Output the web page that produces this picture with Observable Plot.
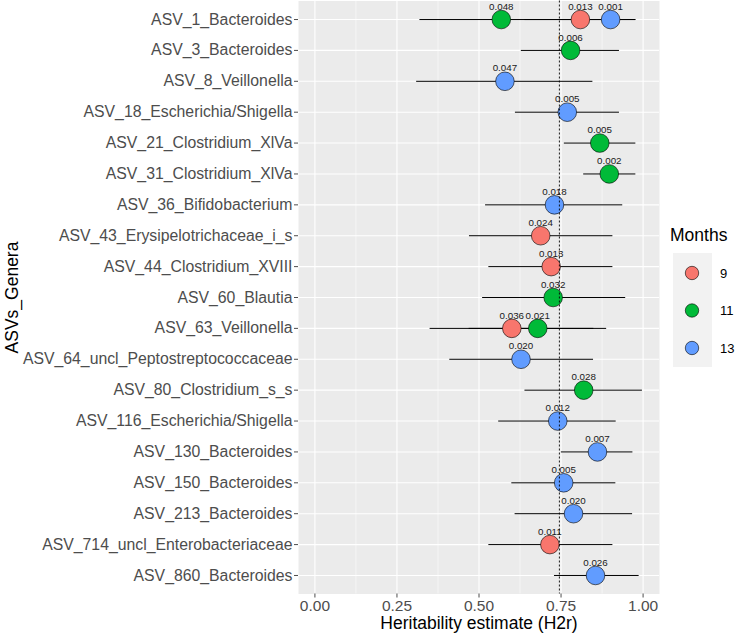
<!DOCTYPE html>
<html>
<head>
<meta charset="utf-8">
<script src="https://cdn.jsdelivr.net/npm/d3@7"></script>
<script src="https://cdn.jsdelivr.net/npm/@observablehq/plot@0.6"></script>
<style>
  body { margin: 0; background: white; font-family: "Liberation Sans", Arial, Helvetica, sans-serif; }
  #wrap { position: relative; width: 736px; height: 634px; }
  #legend { position: absolute; left: 660px; top: 222px; width: 76px; }
</style>
</head>
<body>
<div id="wrap"></div>
<script>
const categories = [
  "ASV_1_Bacteroides", "ASV_3_Bacteroides", "ASV_8_Veillonella", "ASV_18_Escherichia/Shigella",
  "ASV_21_Clostridium_XlVa", "ASV_31_Clostridium_XlVa", "ASV_36_Bifidobacterium",
  "ASV_43_Erysipelotrichaceae_i_s", "ASV_44_Clostridium_XVIII", "ASV_60_Blautia",
  "ASV_63_Veillonella", "ASV_64_uncl_Peptostreptococcaceae", "ASV_80_Clostridium_s_s",
  "ASV_116_Escherichia/Shigella", "ASV_130_Bacteroides", "ASV_150_Bacteroides",
  "ASV_213_Bacteroides", "ASV_714_uncl_Enterobacteriaceae", "ASV_860_Bacteroides"
];
const pointAsv = [
  "ASV_1_Bacteroides", "ASV_1_Bacteroides", "ASV_1_Bacteroides", "ASV_3_Bacteroides",
  "ASV_8_Veillonella", "ASV_18_Escherichia/Shigella", "ASV_21_Clostridium_XlVa",
  "ASV_31_Clostridium_XlVa", "ASV_36_Bifidobacterium", "ASV_43_Erysipelotrichaceae_i_s",
  "ASV_44_Clostridium_XVIII", "ASV_60_Blautia", "ASV_63_Veillonella", "ASV_63_Veillonella",
  "ASV_64_uncl_Peptostreptococcaceae", "ASV_80_Clostridium_s_s", "ASV_116_Escherichia/Shigella",
  "ASV_130_Bacteroides", "ASV_150_Bacteroides", "ASV_213_Bacteroides",
  "ASV_714_uncl_Enterobacteriaceae", "ASV_860_Bacteroides"
];
const pointMonth = ["11","9","13","11","13","13","11","11","13","9","9","11","9","11","13","11","13","13","13","13","9","13"];
const h2r   = [0.568,0.809,0.901,0.779,0.579,0.769,0.868,0.897,0.730,0.688,0.720,0.726,0.600,0.679,0.628,0.819,0.740,0.861,0.758,0.788,0.716,0.855];
const lower = [0.320,0.640,0.822,0.629,0.310,0.611,0.760,0.819,0.520,0.471,0.530,0.511,0.351,0.470,0.411,0.640,0.560,0.751,0.600,0.610,0.530,0.730];
const upper = [0.816,0.978,0.978,0.928,0.847,0.928,0.978,0.978,0.938,0.908,0.908,0.947,0.850,0.889,0.849,0.998,0.918,0.969,0.917,0.968,0.908,0.988];
const pLabel = ["0.048","0.013","0.001","0.006","0.047","0.005","0.005","0.002","0.018","0.024","0.013","0.032","0.036","0.021","0.020","0.028","0.012","0.007","0.005","0.020","0.011","0.026"];
const months = ["9", "11", "13"];
const monthColors = ["#F8766D", "#00BA38", "#619CFF"];
const xTicks = [0, 0.25, 0.5, 0.75, 1];
const xMinor = [0.125, 0.375, 0.625, 0.875];
const refLine = [0.745];

const data = pointAsv.map((asv, i) => ({
  asv, month: pointMonth[i], h2r: h2r[i], lo: lower[i], hi: upper[i], p: pLabel[i]
}));

const plot = Plot.plot({
  width: 736,
  height: 634,
  marginLeft: 298,
  marginRight: 77,
  marginTop: 0.5,
  marginBottom: 40.5,
  style: { fontFamily: '"Liberation Sans", Arial, Helvetica, sans-serif', background: "white", overflow: "visible" },
  x: { domain: [-0.05, 1.05] },
  y: { type: "point", domain: categories, padding: 0.6, round: false },
  color: { domain: months, range: monthColors },
  marks: [
    Plot.frame({ fill: "#EBEBEB", stroke: "none" }),
    Plot.ruleX(xMinor, { stroke: "white", strokeWidth: 0.55 }),
    Plot.ruleX(xTicks, { stroke: "white", strokeWidth: 1.1 }),
    Plot.ruleY(categories, { stroke: "white", strokeWidth: 1.1 }),
    Plot.axisY({ tickSize: 4, tickPadding: 2, fontSize: 15.8, color: "#4d4d4d", label: null }),
    Plot.axisX({ ticks: xTicks, tickFormat: d3.format(".2f"), tickSize: 4, tickPadding: 2, fontSize: 15.5, color: "#4d4d4d", label: null }),
    Plot.ruleY(data, { y: "asv", x1: "lo", x2: "hi", stroke: "black", strokeWidth: 1 }),
    Plot.dot(data, { x: "h2r", y: "asv", fill: "month", r: 9.3, stroke: "black", strokeWidth: 0.6 }),
    Plot.ruleX(refLine, { stroke: "black", strokeWidth: 0.9, strokeDasharray: "2,2" }),
    Plot.text(data, { x: "h2r", y: "asv", text: "p", dy: -13, fontSize: 9.8, fill: "#1a1a1a", lineAnchor: "middle" }),
    Plot.text(["Heritability estimate (H2r)"], { text: d => d, frameAnchor: "bottom", dy: 29.5, fontSize: 17.5, fill: "black", lineAnchor: "middle" }),
    Plot.text(["ASVs_Genera"], { text: d => d, frameAnchor: "left", dx: -286, rotate: -90, fontSize: 17.5, fill: "black", lineAnchor: "middle", textAnchor: "middle" })
  ]
});

const wrap = document.getElementById("wrap");
wrap.appendChild(plot);

// Legend
const legend = document.createElement("div");
legend.id = "legend";
const ns = "http://www.w3.org/2000/svg";
const lsvg = document.createElementNS(ns, "svg");
lsvg.setAttribute("width", 76);
lsvg.setAttribute("height", 150);
lsvg.style.fontFamily = '"Liberation Sans", Arial, Helvetica, sans-serif';
const title = document.createElementNS(ns, "text");
title.setAttribute("x", 10);
title.setAttribute("y", 19);
title.setAttribute("font-size", 17.5);
title.textContent = "Months";
lsvg.appendChild(title);
const bg = document.createElementNS(ns, "rect");
bg.setAttribute("x", 13);
bg.setAttribute("y", 31);
bg.setAttribute("width", 39);
bg.setAttribute("height", 114);
bg.setAttribute("fill", "#F2F2F2");
lsvg.appendChild(bg);
months.forEach((m, i) => {
  const cy = 51 + i * 37.5;
  const c = document.createElementNS(ns, "circle");
  c.setAttribute("cx", 32);
  c.setAttribute("cy", cy);
  c.setAttribute("r", 6.7);
  c.setAttribute("fill", monthColors[i]);
  c.setAttribute("stroke", "black");
  c.setAttribute("stroke-width", 0.6);
  lsvg.appendChild(c);
  const t = document.createElementNS(ns, "text");
  t.setAttribute("x", 60);
  t.setAttribute("y", cy);
  t.setAttribute("dy", "0.35em");
  t.setAttribute("font-size", 13);
  t.textContent = m;
  lsvg.appendChild(t);
});
legend.appendChild(lsvg);
wrap.appendChild(legend);
</script>
</body>
</html>
